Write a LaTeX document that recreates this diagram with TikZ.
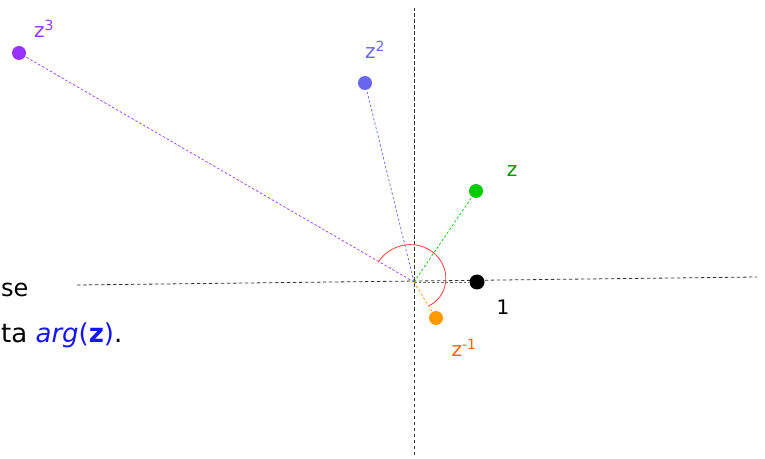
\documentclass[tikz,border=0pt]{standalone}
\usepackage{xcolor}
\usepackage{fontspec}
\setmainfont{DejaVu Sans}
\usetikzlibrary{positioning}

\definecolor{zthreecol}{RGB}{153,51,255}
\definecolor{ztwocol}{RGB}{102,102,238}
\definecolor{zonecol}{RGB}{0,204,0}
\definecolor{zonetext}{RGB}{0,150,0}
\definecolor{zinvcol}{RGB}{255,153,0}
\definecolor{zinvtext}{RGB}{255,102,0}
\definecolor{argblue}{RGB}{20,20,255}
\definecolor{arccol}{RGB}{255,60,60}

\begin{document}
\begin{tikzpicture}[
    x=1pt, y=1pt,
    axis/.style={dash pattern=on 3.5pt off 2.5pt, draw=black!80, line width=0.8pt},
    ray/.style={dash pattern=on 2.5pt off 2pt, line width=0.7pt},
    dot/.style={circle, inner sep=0pt, minimum size=14pt},
    lbl/.style={font=\fontsize{20}{24}\selectfont, inner sep=0pt}
]
    \useasboundingbox (0,0) rectangle (765,458);

    % axes
    \coordinate (O) at (414,176);
    \coordinate (xl) at (77,173);
    \coordinate (xr) at (757,181);
    \coordinate (yt) at (414,450);
    \coordinate (yb) at (414,3);
    \draw [axis] (xl) -- (xr);
    \draw [axis] (yb) -- (yt);

    % powers of z
    \node (one)   [dot, fill=black, minimum size=15pt] at (477,176) {};
    \node (z)     [dot, fill=zonecol] at (476,267) {};
    \node (ztwo)  [dot, fill=ztwocol] at (365,375) {};
    \node (zthree)[dot, fill=zthreecol] at (19,405) {};
    \node (zinv)  [dot, fill=zinvcol] at (436,140) {};

    \node (onelbl)   [lbl] at (503,151) {1};
    \node (zlbl)     [lbl, text=zonetext] at (512,287) {z};
    \node (ztwolbl)  [lbl, text=ztwocol] at (375,408) {z\textsuperscript{2}};
    \node (zthreelbl)[lbl, text=zthreecol] at (44,429) {z\textsuperscript{3}};
    \node (zinvlbl)  [lbl, text=zinvtext] at (464,110) {z\textsuperscript{-1}};

    \draw [ray, black!60] (O) -- (one);
    \draw [ray, zonecol] (O) -- (z);
    \draw [ray, ztwocol] (O) -- (ztwo);
    \draw [ray, zthreecol] (O) -- (zthree);
    \draw [ray, zinvcol] (O) -- (zinv);

    % angle mark
    \draw [arccol, line width=0.8pt] plot[domain=151:-58, samples=80, smooth]
        ({414+(28+13*(\x+58)/209)*cos(\x)}, {176+(28+13*(\x+58)/209)*sin(\x)});

    % text at the left
    \node (txta) [anchor=base west, font=\fontsize{24}{28}\selectfont, inner sep=0pt] at (1,161) {se};
    \node (txtb) [anchor=base west, font=\fontsize{26}{30}\selectfont, inner sep=0pt] at (1,116)
        {ta \textcolor{argblue}{\textit{arg}(\textbf{z})}.};
\end{tikzpicture}
\end{document}
